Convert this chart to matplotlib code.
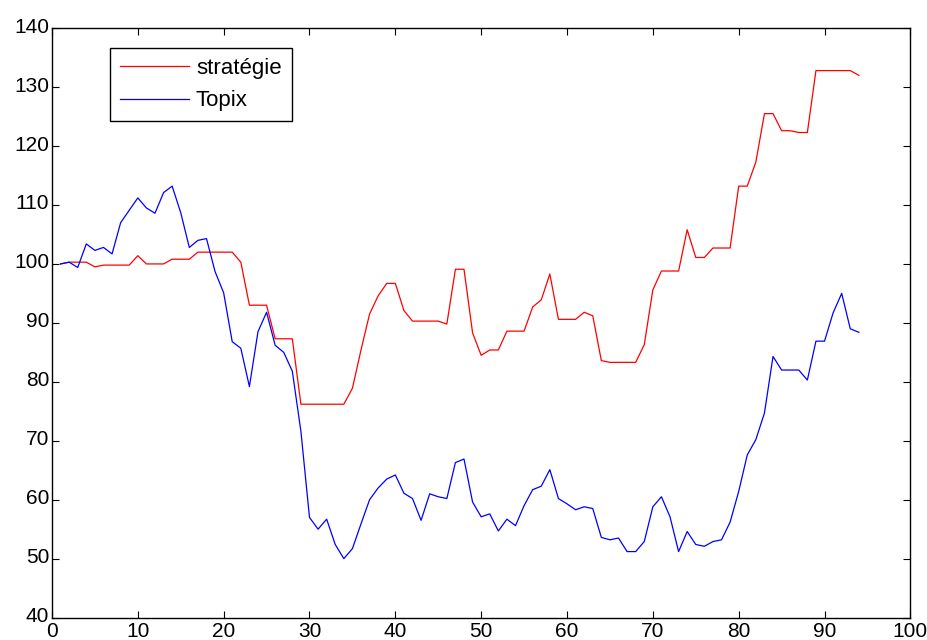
import numpy as np
import matplotlib.pyplot as plt
import matplotlib.transforms as mtransforms

# trading days 1..94
jours = np.arange(1, 95)

strategie = [100.0, 100.3, 100.3, 100.3, 99.5, 99.8, 99.8, 99.8, 99.8, 101.4,
             100.0, 100.0, 100.0, 100.8, 100.8, 100.8, 102.0, 102.0, 102.0, 102.0,
             102.0, 100.3, 93.0, 93.0, 93.0, 87.3, 87.3, 87.3, 76.2, 76.2,
             76.2, 76.2, 76.2, 76.2, 78.9, 85.4, 91.5, 94.6, 96.7, 96.7,
             92.1, 90.3, 90.3, 90.3, 90.3, 89.8, 99.1, 99.1, 88.3, 84.5,
             85.4, 85.4, 88.6, 88.6, 88.6, 92.7, 93.9, 98.3, 90.6, 90.6,
             90.6, 91.8, 91.2, 83.6, 83.3, 83.3, 83.3, 83.3, 86.3, 95.6,
             98.8, 98.8, 98.8, 105.8, 101.1, 101.1, 102.7, 102.7, 102.7, 113.2,
             113.2, 117.3, 125.5, 125.5, 122.6, 122.6, 122.3, 122.3, 132.8, 132.8,
             132.8, 132.8, 132.8, 132.0]

topix = [100.0, 100.3, 99.4, 103.4, 102.3, 102.8, 101.7, 107.0, 109.1, 111.2,
         109.5, 108.6, 112.1, 113.2, 108.7, 102.8, 104.0, 104.3, 98.7, 95.1,
         86.8, 85.7, 79.2, 88.5, 91.8, 86.2, 85.0, 81.8, 71.6, 57.0,
         55.0, 56.7, 52.4, 50.0, 51.7, 55.9, 60.0, 62.0, 63.5, 64.2,
         61.1, 60.2, 56.5, 61.0, 60.5, 60.2, 66.3, 66.9, 59.6, 57.1,
         57.6, 54.7, 56.7, 55.6, 59.0, 61.7, 62.3, 65.1, 60.2, 59.3,
         58.3, 58.8, 58.5, 53.6, 53.2, 53.5, 51.2, 51.2, 52.9, 58.8,
         60.5, 57.1, 51.2, 54.6, 52.4, 52.1, 52.9, 53.2, 56.2, 61.4,
         67.6, 70.2, 74.7, 84.3, 82.0, 82.0, 82.0, 80.3, 86.9, 86.9,
         91.7, 95.0, 89.0, 88.4]

plt.rcParams['font.family'] = ['Liberation Sans', 'DejaVu Sans']

fig = plt.figure(figsize=(9.28, 6.4), dpi=100)
ax = fig.add_axes([0.056, 0.035, 0.925, 0.921])

ax.plot(jours, strategie, color='red', linewidth=0.9, label='stratégie')
ax.plot(jours, topix, color='blue', linewidth=0.9, label='Topix')

ax.set_xlim(0, 100)
ax.set_ylim(40, 140)
ax.set_xticks(np.arange(0, 101, 10))
ax.set_yticks(np.arange(40, 141, 10))
ax.tick_params(direction='in', top=True, right=True, length=5, width=0.8,
               labelsize=15)
ax.tick_params(axis='x', pad=3)
ax.tick_params(axis='y', pad=2)
# matlab puts y labels a touch above the tick
shift = mtransforms.ScaledTranslation(0, 3 / 100, fig.dpi_scale_trans)
for lab in ax.get_yticklabels():
    lab.set_transform(lab.get_transform() + shift)
for s in ax.spines.values():
    s.set_linewidth(1.0)

leg = ax.legend(loc='upper left', bbox_to_anchor=(0.068, 0.966), borderaxespad=0,
                fancybox=False, edgecolor='black', framealpha=1, fontsize=16,
                handlelength=3.1, handletextpad=0.3, borderpad=0.45)
leg.get_frame().set_linewidth(1.0)

fig.savefig('out.png', dpi=100)
